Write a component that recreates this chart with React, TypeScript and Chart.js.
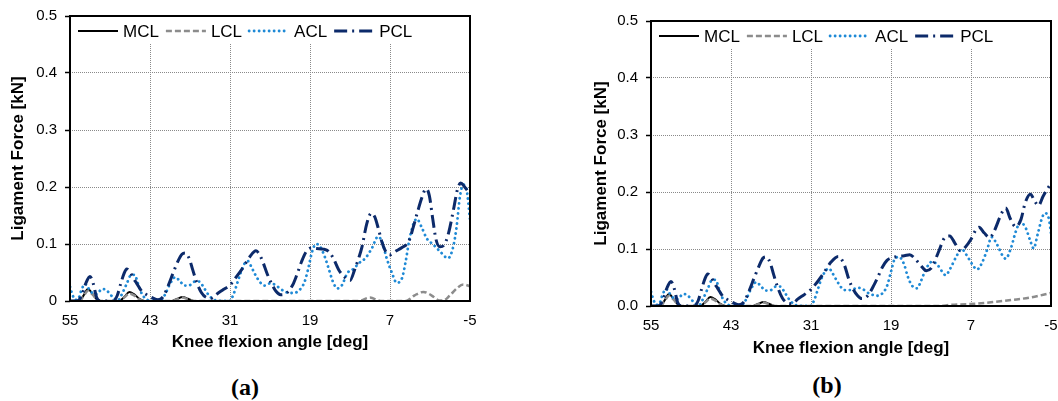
import React, { useEffect, useRef } from "react";
import { Chart, registerables } from "chart.js";

Chart.register(...registerables);

type Pair = [number, number];

const xTicks = [55, 43, 31, 19, 7, -5];
const yTicks = [0, 0.1, 0.2, 0.3, 0.4, 0.5];
const seriesNames = ["MCL", "LCL", "ACL", "PCL"];
const panelLabels = ["(a)", "(b)"];
const xTitle = "Knee flexion angle [deg]";
const yTitle = "Ligament Force [kN]";

// ---------- Panel (a): [knee flexion angle (deg), force (kN)] ----------
const mclA: Pair[] = [
  [55, 0], [53.6, 0], [53.0, 0.009], [52.3, 0.021], [51.6, 0.012], [51.0, 0.003], [50.4, 0],
  [47.6, 0], [46.8, 0.008], [46.1, 0.016], [45.4, 0.012], [44.6, 0.004], [43.8, 0],
  [39.8, 0], [38.9, 0.004], [38.1, 0.007], [37.3, 0.004], [36.4, 0], [-5, 0],
];
const lclA: Pair[] = [
  [55, 0], [53.6, 0], [53.0, 0.008], [52.3, 0.018], [51.6, 0.011], [51.0, 0.003], [50.4, 0],
  [47.6, 0], [46.8, 0.007], [46.1, 0.013], [45.4, 0.01], [44.6, 0.003], [43.8, 0],
  [39.8, 0], [38.9, 0.003], [38.1, 0.006], [37.3, 0.003], [36.4, 0],
  [11.8, 0], [10.0, 0.006], [8.4, 0], [4.6, 0], [3.3, 0.01], [2.0, 0.016], [0.8, 0.01],
  [-0.4, 0.001], [-1.0, 0.001], [-2.0, 0.01], [-3.0, 0.022], [-4.0, 0.029], [-5, 0.026],
];
const aclA: Pair[] = [
  [55, 0.025], [54.6, 0.01], [54.2, 0.002], [53.8, 0.003], [53.2, 0.022], [52.7, 0.03], [52.2, 0.022],
  [51.5, 0.013], [51.0, 0.012], [50.2, 0.021], [49.6, 0.02], [49.0, 0.012], [48.3, 0.004], [47.8, 0.001],
  [47.3, 0.01], [46.5, 0.03], [45.8, 0.046], [45.3, 0.046], [44.8, 0.03], [44.2, 0.012], [43.5, 0.003],
  [43.0, 0], [41.5, 0], [40.8, 0.01], [40.0, 0.03], [39.2, 0.042], [38.6, 0.036], [37.8, 0.027],
  [37.0, 0.028], [36.3, 0.034], [35.6, 0.034], [35.0, 0.025], [34.3, 0.012], [33.5, 0.003], [32.5, 0],
  [31.0, 0], [30.5, 0.011], [30.0, 0.028], [29.5, 0.046], [28.8, 0.066], [28.3, 0.07], [27.8, 0.06],
  [27.2, 0.046], [26.5, 0.033], [25.8, 0.027], [25.0, 0.031], [24.3, 0.029], [23.5, 0.022], [22.7, 0.016],
  [21.5, 0.014], [20.6, 0.019], [19.8, 0.034], [19.2, 0.06], [18.7, 0.086], [18.1, 0.1], [17.5, 0.096],
  [16.8, 0.078], [16.2, 0.057], [15.6, 0.035], [14.9, 0.022], [14.2, 0.028], [13.4, 0.049], [12.4, 0.057],
  [11.7, 0.066], [10.7, 0.075], [9.7, 0.093], [8.8, 0.113], [8.2, 0.104], [7.5, 0.075], [6.7, 0.049],
  [6.0, 0.032], [5.2, 0.04], [4.7, 0.066], [4.0, 0.113], [3.0, 0.144], [2.2, 0.128], [1.5, 0.11],
  [0.5, 0.099], [-0.5, 0.087], [-1.7, 0.075], [-2.5, 0.096], [-3.0, 0.131], [-3.5, 0.184], [-4.0, 0.204],
  [-4.5, 0.195], [-5, 0.143],
];
const pclA: Pair[] = [
  [55, 0], [54, 0], [53.3, 0.008], [52.6, 0.032], [52.0, 0.043], [51.5, 0.03], [51.0, 0.006], [50.5, 0],
  [48.5, 0], [47.9, 0.01], [47.4, 0.03], [46.9, 0.048], [46.5, 0.056], [46.0, 0.051], [45.5, 0.04],
  [45.0, 0.031], [44.3, 0.018], [43.5, 0.011], [42.7, 0.006], [41.8, 0.002], [41.0, 0.008], [40.3, 0.026],
  [39.5, 0.05], [38.8, 0.07], [38.2, 0.082], [37.7, 0.084], [37.1, 0.074], [36.6, 0.055], [36.0, 0.033],
  [35.3, 0.015], [34.5, 0.006], [33.8, 0.005], [33.0, 0.012], [32.0, 0.02], [31.0, 0.028], [30.2, 0.04],
  [29.2, 0.056], [28.0, 0.078], [27.1, 0.088], [26.3, 0.075], [25.4, 0.047], [24.7, 0.029], [24.1, 0.017],
  [23.4, 0.011], [22.5, 0.014], [21.6, 0.028], [21.0, 0.045], [20.3, 0.068], [19.6, 0.086], [18.8, 0.093],
  [18.0, 0.092], [17.0, 0.091], [16.2, 0.087], [15.5, 0.075], [14.7, 0.055], [14.0, 0.044], [13.0, 0.036],
  [12.3, 0.055], [11.7, 0.075], [11.2, 0.095], [10.5, 0.135], [9.8, 0.154], [9.3, 0.148], [8.7, 0.125],
  [8.2, 0.103], [7.6, 0.086], [7.0, 0.081], [6.2, 0.087], [5.2, 0.094], [4.2, 0.104], [3.5, 0.13],
  [2.9, 0.155], [2.2, 0.182], [1.6, 0.197], [1.1, 0.185], [0.6, 0.145], [0.1, 0.108], [-0.5, 0.095],
  [-1.1, 0.098], [-1.8, 0.12], [-2.6, 0.165], [-3.1, 0.195], [-3.6, 0.207], [-4.2, 0.2], [-5, 0.187],
];

// ---------- Panel (b) ----------
const mclB: Pair[] = [
  [55, 0], [53.6, 0], [53.0, 0.009], [52.3, 0.021], [51.6, 0.012], [51.0, 0.003], [50.4, 0],
  [47.6, 0], [46.8, 0.008], [46.1, 0.016], [45.4, 0.012], [44.6, 0.004], [43.8, 0],
  [39.8, 0], [38.9, 0.004], [38.1, 0.007], [37.3, 0.004], [36.4, 0], [-5, 0],
];
const lclB: Pair[] = [
  [55, 0], [53.6, 0], [53.0, 0.008], [52.3, 0.018], [51.6, 0.011], [51.0, 0.003], [50.4, 0],
  [47.6, 0], [46.8, 0.007], [46.1, 0.013], [45.4, 0.01], [44.6, 0.003], [43.8, 0],
  [39.8, 0], [38.9, 0.003], [38.1, 0.006], [37.3, 0.003], [36.4, 0],
  [12.0, 0], [10.0, 0.002], [7.0, 0.0035], [4.0, 0.0065], [1.0, 0.0105], [-2.0, 0.015], [-5, 0.023],
];
const aclB: Pair[] = [
  [55, 0.025], [54.6, 0.01], [54.2, 0.002], [53.8, 0.003], [53.2, 0.022], [52.7, 0.03], [52.2, 0.022],
  [51.5, 0.013], [51.0, 0.012], [50.2, 0.021], [49.6, 0.02], [49.0, 0.012], [48.3, 0.004], [47.8, 0.001],
  [47.3, 0.01], [46.5, 0.03], [45.8, 0.046], [45.3, 0.046], [44.8, 0.03], [44.2, 0.012], [43.5, 0.003],
  [43.0, 0], [41.5, 0], [40.8, 0.01], [40.0, 0.03], [39.2, 0.042], [38.6, 0.036], [37.8, 0.027],
  [37.0, 0.028], [36.3, 0.034], [35.6, 0.034], [35.0, 0.025], [34.3, 0.012], [33.5, 0.003], [32.5, 0],
  [31.0, 0], [30.5, 0.011], [30.0, 0.028], [29.5, 0.046], [28.8, 0.062], [28.3, 0.066], [27.8, 0.058],
  [27.2, 0.046], [26.5, 0.033], [26.0, 0.028], [25.0, 0.028], [24.0, 0.032], [23.3, 0.03], [22.3, 0.022],
  [21.0, 0.018], [20.3, 0.022], [19.6, 0.035], [19.0, 0.06], [18.5, 0.081], [17.8, 0.086], [17.0, 0.072],
  [16.5, 0.052], [15.8, 0.035], [15.1, 0.031], [14.5, 0.044], [13.8, 0.064], [12.8, 0.078], [12.1, 0.073],
  [11.3, 0.06], [10.8, 0.054], [10.1, 0.066], [9.1, 0.089], [8.4, 0.1], [7.7, 0.09], [6.8, 0.073],
  [6.1, 0.064], [5.3, 0.077], [4.6, 0.098], [3.9, 0.121], [3.1, 0.108], [2.3, 0.089], [1.8, 0.083],
  [1.0, 0.102], [0.3, 0.13], [-0.4, 0.147], [-1.2, 0.137], [-1.9, 0.114], [-2.4, 0.101], [-3.0, 0.126],
  [-3.7, 0.156], [-4.1, 0.163], [-4.7, 0.152], [-5, 0.128],
];
const pclB: Pair[] = [
  [55, 0], [54, 0], [53.3, 0.008], [52.6, 0.032], [52.0, 0.043], [51.5, 0.03], [51.0, 0.006], [50.5, 0],
  [48.5, 0], [47.9, 0.01], [47.4, 0.03], [46.9, 0.048], [46.5, 0.056], [46.0, 0.051], [45.5, 0.04],
  [45.0, 0.031], [44.3, 0.018], [43.5, 0.011], [42.7, 0.006], [41.8, 0.002], [41.0, 0.008], [40.3, 0.026],
  [39.5, 0.05], [38.8, 0.07], [38.2, 0.084], [37.7, 0.086], [37.1, 0.075], [36.6, 0.055], [36.0, 0.033],
  [35.3, 0.014], [34.5, 0.005], [33.8, 0.004], [33.0, 0.012], [32.0, 0.02], [31.0, 0.029], [30.2, 0.04],
  [29.2, 0.056], [28.0, 0.077], [26.9, 0.087], [26.0, 0.072], [25.3, 0.046], [24.7, 0.03], [24.0, 0.018],
  [23.4, 0.013], [22.5, 0.018], [21.5, 0.038], [21.0, 0.05], [20.3, 0.068], [19.6, 0.08], [19.0, 0.084],
  [18.0, 0.087], [17.0, 0.088], [16.2, 0.09], [15.4, 0.083], [14.6, 0.072], [13.7, 0.062], [13.0, 0.066],
  [12.4, 0.08], [11.8, 0.097], [11.0, 0.119], [10.2, 0.123], [9.4, 0.11], [8.6, 0.097], [7.8, 0.104],
  [7.0, 0.117], [6.3, 0.133], [5.8, 0.138], [5.0, 0.128], [4.2, 0.12], [3.5, 0.132], [2.4, 0.163],
  [1.8, 0.172], [1.1, 0.153], [0.3, 0.139], [-0.5, 0.152], [-1.1, 0.18], [-1.9, 0.196], [-2.6, 0.183],
  [-3.1, 0.176], [-3.8, 0.192], [-4.5, 0.206], [-5, 0.215],
];

const FONT = '"Liberation Sans", Arial, Helvetica, sans-serif';
Chart.defaults.font.family = FONT;
Chart.defaults.color = "#000";

const STYLES = [
  { color: "#000000", width: 2, dash: [] as number[], cap: "butt" },
  { color: "#8c8c8c", width: 2.5, dash: [6, 3], cap: "butt" },
  { color: "#1f8ad6", width: 2.8, dash: [0.1, 4.9], cap: "round" },
  { color: "#0c2a6a", width: 3, dash: [13, 5, 2, 5], cap: "butt" },
];

const frameLegendPlugin = {
  id: "frameLegend",
  afterDraw(chart: any) {
    const { ctx, chartArea: a } = chart;
    const ds = chart.data.datasets;
    ctx.save();
    ctx.font = `17px ${FONT}`;
    const lineLen = 40;
    const gapText = 5;
    const gapItem = 7;
    let total = 0;
    ds.forEach((d: any) => {
      total += lineLen + gapText + ctx.measureText(d.label).width + gapItem;
    });
    ctx.fillStyle = "#fff";
    ctx.fillRect(a.left + 1, a.top + 1, 8 + total, 27);
    let x = a.left + 8;
    const y = a.top + 15;
    ds.forEach((d: any) => {
      ctx.beginPath();
      ctx.strokeStyle = d.borderColor;
      ctx.lineWidth = d.borderWidth;
      ctx.setLineDash(d.borderDash || []);
      ctx.lineCap = d.borderCapStyle || "butt";
      ctx.moveTo(x, y);
      ctx.lineTo(x + lineLen, y);
      ctx.stroke();
      x += lineLen + gapText;
      ctx.setLineDash([]);
      ctx.fillStyle = "#000";
      ctx.textBaseline = "middle";
      ctx.textAlign = "left";
      ctx.fillText(d.label, x, y + 1);
      x += ctx.measureText(d.label).width + gapItem;
    });
    ctx.setLineDash([]);
    ctx.lineCap = "butt";
    ctx.lineWidth = 2;
    ctx.strokeStyle = "#000";
    ctx.strokeRect(a.left, a.top, a.right - a.left, a.bottom - a.top);
    ctx.restore();
  },
};

type Geom = { top: number; right: number; bottom: number; yW: number; xH: number; yTitlePad: number };

function buildConfig(series: Pair[][], yLabel: (v: number) => string, g: Geom): any {
  return {
    type: "line",
    data: {
      datasets: series.map((s, i) => ({
        label: seriesNames[i],
        data: s.map(([x, y]) => ({ x, y })),
        borderColor: STYLES[i].color,
        backgroundColor: STYLES[i].color,
        borderWidth: STYLES[i].width,
        borderDash: STYLES[i].dash,
        borderCapStyle: STYLES[i].cap,
        pointRadius: 0,
        cubicInterpolationMode: "monotone",
        fill: false,
        order: 3 - i,
      })),
    },
    options: {
      responsive: false,
      animation: false,
      events: [],
      layout: { padding: { left: 0, top: g.top, right: g.right, bottom: g.bottom } },
      plugins: { legend: { display: false }, tooltip: { enabled: false } },
      scales: {
        x: {
          type: "linear",
          reverse: true,
          min: -5,
          max: 55,
          afterBuildTicks: (s: any) => {
            s.ticks = xTicks.map((v) => ({ value: v }));
          },
          afterFit: (s: any) => {
            s.height = g.xH;
            s.paddingLeft = 0;
            s.paddingRight = 0;
          },
          ticks: {
            font: { size: 15 },
            color: "#000",
            padding: 3,
            maxRotation: 0,
            autoSkip: false,
            callback: (v: any) => String(v),
          },
          grid: {
            color: "#8a8a8a",
            lineWidth: 1,
            tickLength: 8,
            tickColor: "rgba(0,0,0,0)",
          },
          border: { display: false, dash: [1, 1] },
          title: {
            display: true,
            text: xTitle,
            color: "#000",
            font: { size: 17, weight: "bold" },
            padding: { top: 0, bottom: 0 },
          },
        },
        y: {
          type: "linear",
          min: 0,
          max: 0.5,
          afterBuildTicks: (s: any) => {
            s.ticks = yTicks.map((v) => ({ value: v }));
          },
          afterFit: (s: any) => {
            s.width = g.yW;
            s.paddingTop = 0;
            s.paddingBottom = 0;
          },
          ticks: {
            font: { size: 15 },
            color: "#000",
            padding: 8,
            callback: (v: any) => yLabel(Number(v)),
          },
          grid: {
            color: "#8a8a8a",
            lineWidth: 1,
            tickLength: 5,
            tickColor: "#000",
            tickWidth: 1.5,
            tickBorderDash: [],
          },
          border: { display: false, dash: [1, 1] },
          title: {
            display: true,
            text: yTitle,
            color: "#000",
            font: { size: 17, weight: "bold" },
            padding: { top: g.yTitlePad, bottom: 0 },
          },
        },
      },
    },
    plugins: [frameLegendPlugin],
  };
}

function Panel({ config, left, width, height }: { config: any; left: number; width: number; height: number }) {
  const ref = useRef<HTMLCanvasElement>(null);
  useEffect(() => {
    if (!ref.current) return;
    const chart = new Chart(ref.current, config);
    return () => chart.destroy();
  }, [config]);
  return (
    <canvas
      ref={ref}
      width={width}
      height={height}
      style={{ position: "absolute", left, top: 0, width, height }}
    />
  );
}

const configA = buildConfig(
  [mclA, lclA, aclA, pclA],
  (v) => (v === 0 ? "0" : v.toFixed(1)),
  { top: 16, right: 10, bottom: 7, yW: 70, xH: 52, yTitlePad: 8 }
);
const configB = buildConfig(
  [mclB, lclB, aclB, pclB],
  (v) => v.toFixed(1),
  { top: 21, right: 7, bottom: 7, yW: 71, xH: 53, yTitlePad: 11 }
);

const labelStyle: React.CSSProperties = {
  position: "absolute",
  width: 60,
  height: 28,
  lineHeight: "28px",
  textAlign: "center",
  fontFamily: '"Liberation Serif", "Times New Roman", serif',
  fontWeight: "bold",
  fontSize: 24,
  color: "#000",
};

export default function App() {
  return (
    <div style={{ position: "absolute", left: 0, top: 0, width: 1058, height: 401, background: "#fff", overflow: "hidden" }}>
      <Panel config={configA} left={0} width={480} height={360} />
      <Panel config={configB} left={580} width={478} height={366} />
      <div style={{ ...labelStyle, left: 245 - 30, top: 387 - 14 }}>{panelLabels[0]}</div>
      <div style={{ ...labelStyle, left: 827 - 30, top: 385 - 14 }}>{panelLabels[1]}</div>
    </div>
  );
}
